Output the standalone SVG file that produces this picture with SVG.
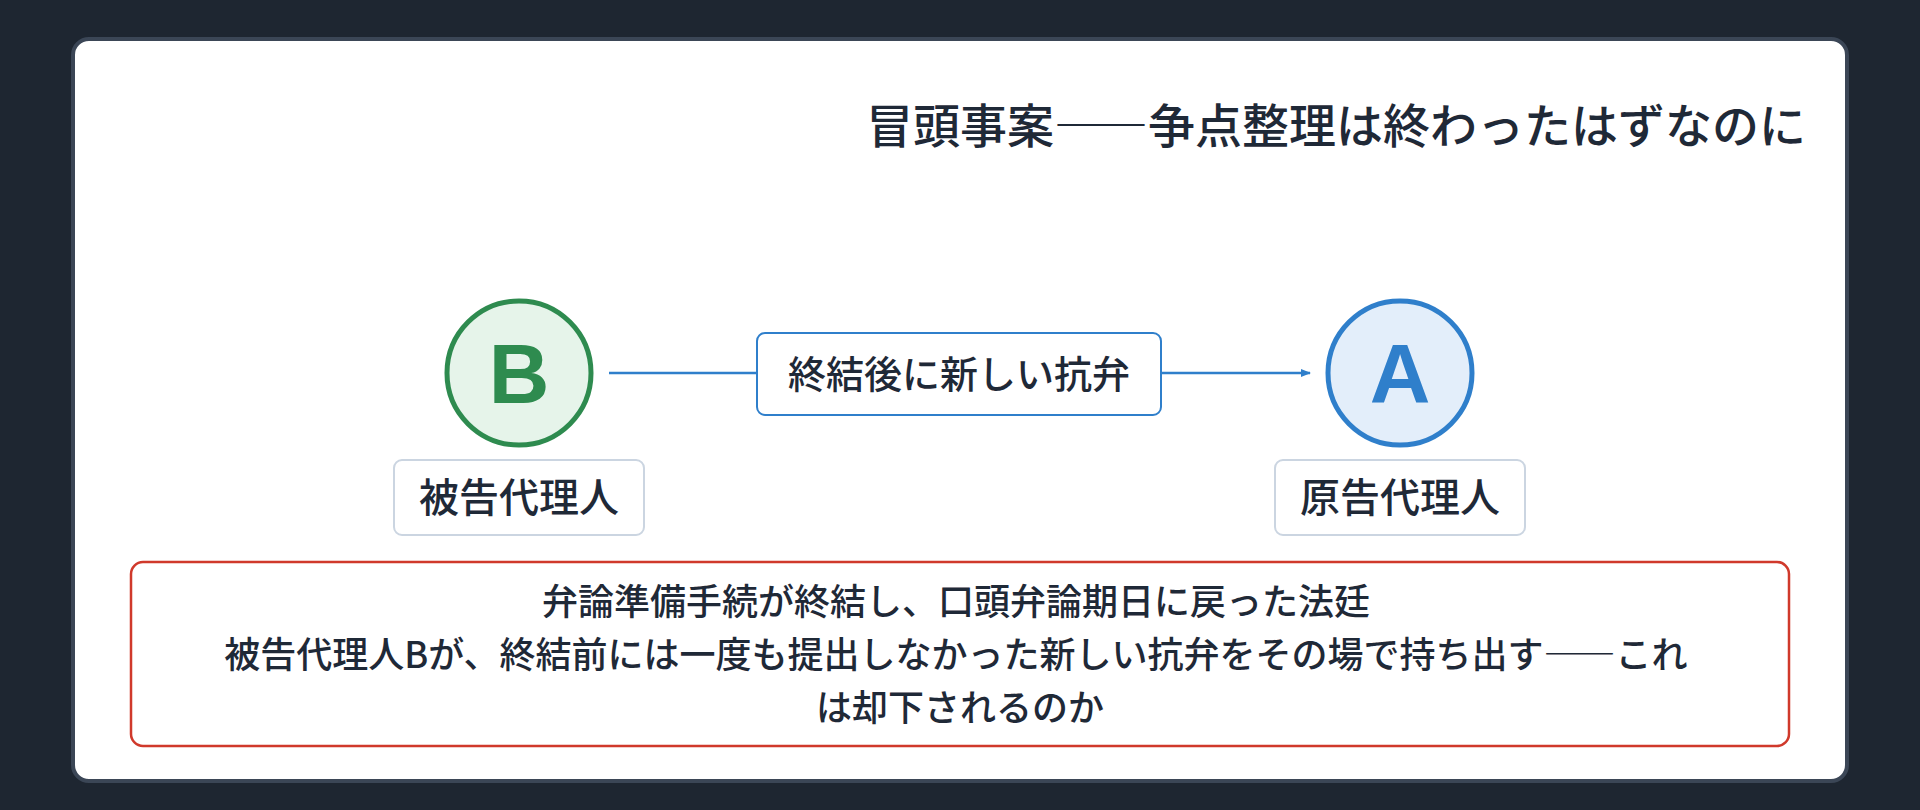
<svg xmlns="http://www.w3.org/2000/svg" width="1920" height="810" viewBox="0 0 1920 810">
<defs>
<style>
text{font-family:"Noto Sans CJK JP","Noto Sans",sans-serif;fill:#1f2937}
.lbl{fill:#fff;stroke:#cbd5e1;stroke-width:2}
</style>
<marker id="ar" markerWidth="10" markerHeight="10" refX="9" refY="5" orient="auto" markerUnits="userSpaceOnUse"><path d="M0,1 L10,5 L0,9 Z" fill="#2f7fcb"/></marker>
</defs>
<rect width="1920" height="810" fill="#1e2631"/>
<rect x="73" y="39" width="1774" height="742" rx="16" fill="#fff" stroke="#3b4656" stroke-width="4"/>
<text x="1806" y="143" font-size="47" font-weight="500" text-anchor="end">冒頭事案――争点整理は終わったはずなのに</text>
<g id="connectors">
<line x1="609" y1="373" x2="1310" y2="373" stroke="#2f7fcb" stroke-width="2.5" marker-end="url(#ar)"/>
<rect x="757" y="333" width="404" height="82" rx="8" fill="#fff" stroke="#2f7fcb" stroke-width="2"/>
<text x="959" y="388" font-size="38" font-weight="500" text-anchor="middle">終結後に新しい抗弁</text>
</g>
<g id="nodeB">
<circle cx="519" cy="373" r="72" fill="#e6f4ea" stroke="#2e8b4f" stroke-width="5"/>
<text x="519" y="403" font-size="84" font-weight="bold" text-anchor="middle" style="fill:#2e8b4f;font-family:'Liberation Sans',sans-serif">B</text>
<rect class="lbl" x="394" y="460" width="250" height="75" rx="8"/>
<text x="519" y="512" font-size="40" font-weight="500" text-anchor="middle">被告代理人</text>
</g>
<g id="nodeA">
<circle cx="1400" cy="373" r="72" fill="#e3eefa" stroke="#2f7fcb" stroke-width="5"/>
<text x="1400" y="403" font-size="84" font-weight="bold" text-anchor="middle" style="fill:#2f7fcb;font-family:'Liberation Sans',sans-serif">A</text>
<rect class="lbl" x="1275" y="460" width="250" height="75" rx="8"/>
<text x="1400" y="512" font-size="40" font-weight="500" text-anchor="middle">原告代理人</text>
</g>
<g id="note">
<rect x="131" y="562" width="1658" height="184" rx="12" fill="#fff" stroke="#d0392b" stroke-width="2.5"/>
<text font-size="36" font-weight="500" text-anchor="middle">
<tspan x="960" y="615">弁論準備手続が終結し、口頭弁論期日に戻った法廷</tspan>
<tspan x="960" y="668">被告代理人Bが、終結前には一度も提出しなかった新しい抗弁をその場で持ち出す――これ</tspan>
<tspan x="960" y="721">は却下されるのか</tspan>
</text>
</g>
</svg>
